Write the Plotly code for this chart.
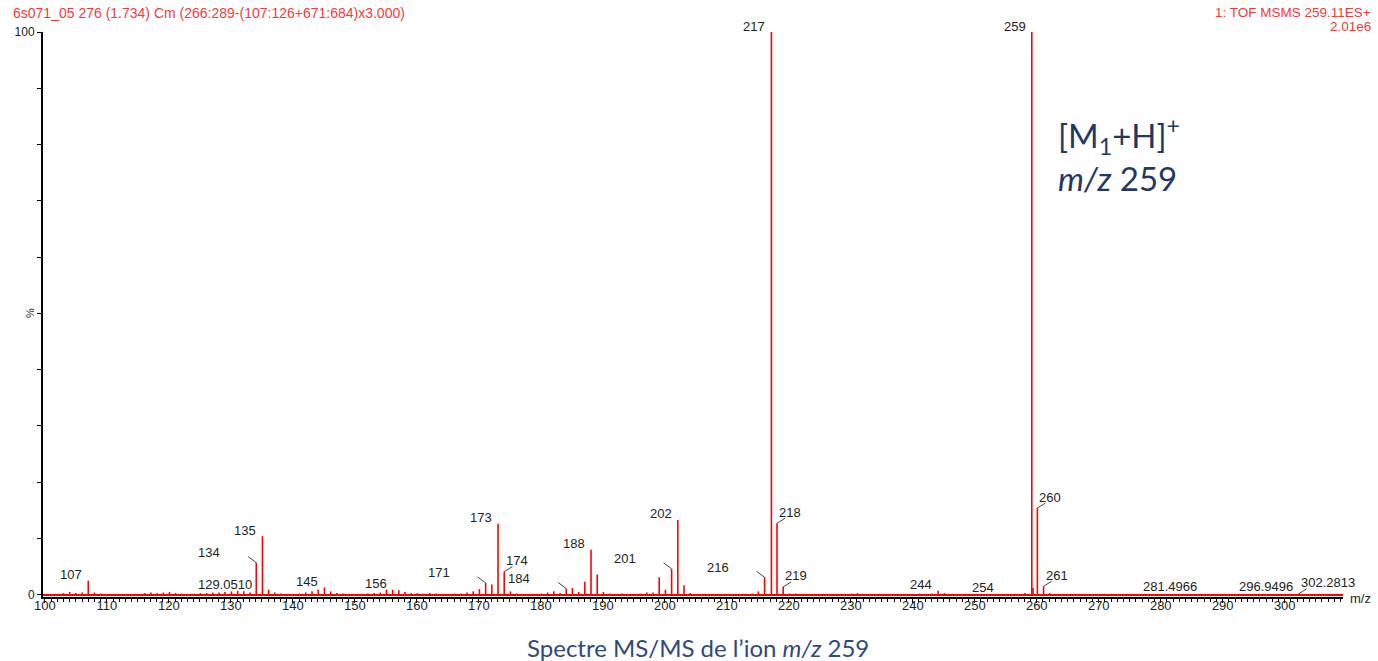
import plotly.graph_objects as go

# ---------------- data ----------------
mz = [103.0, 104.0, 105.0, 106.0, 107.0, 108.0, 109.0,
      116.1, 117.1, 118.1, 119.1, 120.1, 121.1, 122.1, 124.1, 125.1, 126.1, 127.1, 128.1,
      129.051, 130.1, 131.1, 132.1, 133.1, 134.1, 135.1, 136.1, 137.1, 138.1,
      141.1, 142.1, 143.1, 144.1, 145.1, 146.1, 147.1, 148.1,
      152.1, 153.1, 154.1, 155.1, 156.1, 157.1, 158.1, 159.1, 160.1, 161.1, 162.1, 163.1,
      166.1, 167.1, 168.1, 169.1, 170.1, 171.1, 172.1, 173.1, 174.1, 175.1, 176.1,
      180.1, 181.1, 182.1, 183.1, 184.1, 185.1, 186.1, 187.1, 188.1, 189.1, 190.1, 191.1,
      193.1, 196.1, 197.1, 198.1, 199.1, 200.1, 201.1, 202.1, 203.1, 204.1,
      214.1, 215.1, 216.1, 217.2, 218.1, 219.1, 220.1, 221.1,
      230.1, 231.1, 241.1, 243.1, 244.1, 245.1, 254.1,
      258.1, 259.2, 259.4, 260.1, 261.1, 262.1,
      281.4966, 296.9496, 302.2813]
intensity = [0.3, 0.5, 0.3, 0.4, 2.5, 0.4, 0.2,
             0.3, 0.4, 0.3, 0.4, 0.5, 0.3, 0.2, 0.2, 0.3, 0.3, 0.4, 0.4,
             0.5, 0.6, 0.7, 0.6, 0.4, 5.7, 10.4, 0.9, 0.4, 0.2,
             0.2, 0.4, 0.6, 0.9, 1.3, 0.6, 0.3, 0.2,
             0.2, 0.3, 0.4, 0.9, 0.9, 0.8, 0.5, 0.3, 0.3, 0.2, 0.3, 0.2,
             0.2, 0.2, 0.4, 0.6, 1.0, 2.1, 1.8, 12.6, 4.1, 0.6, 0.2,
             0.2, 0.4, 0.6, 0.3, 1.1, 1.2, 0.5, 2.3, 8.0, 3.6, 0.5, 0.2,
             0.2, 0.2, 0.4, 0.4, 3.1, 0.9, 4.6, 13.3, 1.7, 0.3,
             0.2, 0.6, 3.1, 100.0, 12.7, 1.4, 0.2, 0.2,
             0.2, 0.3, 0.2, 0.2, 0.7, 0.3, 0.15,
             0.3, 100.0, 1.2, 15.4, 1.5, 0.3,
             0.15, 0.15, 0.2]

label_mz = [107.0, 129.051, 134.1, 135.1, 145.1, 156.1, 171.1, 173.1, 174.1, 184.1,
            188.1, 201.1, 202.1, 216.1, 217.2, 218.1, 219.1, 244.1, 254.1, 259.2,
            260.1, 261.1, 281.4966, 296.9496, 302.2813]
label_text = ["107", "129.0510", "134", "135", "145", "156", "171", "173", "174", "184",
              "188", "201", "202", "216", "217", "218", "219", "244", "254", "259",
              "260", "261", "281.4966", "296.9496", "302.2813"]

x_range = [99.7, 309.4]
y_range = [-0.4, 100]
y_ticks = [0, 10, 20, 30, 40, 50, 60, 70, 80, 90, 100]
y_ticktext = ["0", "", "", "", "", "", "", "", "", "", "100"]

header_left = "6s071_05 276 (1.734) Cm (266:289-(107:126+671:684)x3.000)"
header_right1 = "1: TOF MSMS 259.11ES+"
header_right2 = "2.01e6"
ion_text = "[M<sub>1</sub>+H]<sup>+</sup><br><i>m/z</i> 259"
caption = "Spectre MS/MS de l\u2019ion <i>m/z</i> 259"

# ---------------- styles ----------------
# label placement style: 'std' (left of peak), 'c' (centred), 'L' (leader to left), 'R' (leader to right)
LABEL_STYLE = {"129.0510": "c", "281.4966": "c", "296.9496": "c",
               "134": "L", "171": "L", "184": "L", "201": "L", "216": "L",
               "174": "R", "218": "R", "219": "R", "260": "R", "261": "R", "302.2813": "R"}

FONT = "Liberation Sans, Arial, sans-serif"
RED = "#ff0000"
HEAD_RED = "#f23a3a"
LABEL_COLOR = "#222222"
LBL_SIZE = 13

# ---------------- build ----------------
intens_map = dict(zip(mz, intensity))
sx, sy = [], []
for m, v in zip(mz, intensity):
    sx += [m, m, None]
    sy += [0, v, None]

fig = go.Figure()
fig.add_trace(go.Scatter(x=sx, y=sy, mode="lines",
                         line=dict(color=RED, width=1.6),
                         hoverinfo="skip", showlegend=False, cliponaxis=False))

annotations = []
shapes = []
for m, t in zip(label_mz, label_text):
    v = intens_map[m]
    st = LABEL_STYLE.get(t, "std")
    a = dict(x=m, y=v, xref="x", yref="y", text=t, showarrow=False,
             font=dict(family=FONT, size=LBL_SIZE, color=LABEL_COLOR), yanchor="middle")
    if st == "std":
        a.update(xanchor="right", xshift=-4, yshift=6)
    elif st == "c":
        a.update(xanchor="center", xshift=0, yshift=7)
    elif st == "L":
        a.update(xanchor="right", xshift=-34, yshift=10)
        shapes.append(dict(type="line", xref="x", yref="y", xsizemode="pixel", ysizemode="pixel",
                           xanchor=m, yanchor=v, x0=0, y0=0, x1=-8, y1=6,
                           line=dict(color="#444444", width=1)))
    else:
        a.update(xanchor="left", xshift=0, yshift=11)
        shapes.append(dict(type="line", xref="x", yref="y", xsizemode="pixel", ysizemode="pixel",
                           xanchor=m, yanchor=v, x0=0, y0=0, x1=8, y1=5,
                           line=dict(color="#444444", width=1)))
    annotations.append(a)

# y axis "%" label
annotations.append(dict(x=0, y=50, xref="paper", yref="y", text="%", showarrow=False,
                        textangle=90, xanchor="center", yanchor="middle", xshift=-13,
                        font=dict(family=FONT, size=11, color="#222222")))
# m/z axis title
annotations.append(dict(x=1, y=0, xref="paper", yref="paper", text="m/z", showarrow=False,
                        xanchor="left", yanchor="middle", xshift=5, yshift=-1,
                        font=dict(family=FONT, size=13, color="#222222")))
# headers
annotations.append(dict(x=0, y=1, xref="paper", yref="paper", text=header_left, showarrow=False,
                        xanchor="left", yanchor="middle", xshift=-32, yshift=19,
                        font=dict(family=FONT, size=14, color=HEAD_RED)))
annotations.append(dict(x=1, y=1, xref="paper", yref="paper", text=header_right1, showarrow=False,
                        xanchor="right", yanchor="middle", xshift=30, yshift=20,
                        font=dict(family=FONT, size=13.5, color=HEAD_RED)))
annotations.append(dict(x=1, y=1, xref="paper", yref="paper", text=header_right2, showarrow=False,
                        xanchor="right", yanchor="middle", xshift=30, yshift=6,
                        font=dict(family=FONT, size=13.5, color=HEAD_RED)))
# ion annotation
annotations.append(dict(x=0.7795, y=0.863, xref="paper", yref="paper", text=ion_text,
                        showarrow=False, xanchor="left", yanchor="top", align="left",
                        font=dict(family="Lato, Open Sans, sans-serif", size=33, color="#1f3864")))
# caption
annotations.append(dict(x=0.504, y=-0.09, xref="paper", yref="paper", text=caption,
                        showarrow=False, xanchor="center", yanchor="middle",
                        font=dict(family="Lato, Open Sans, sans-serif", size=24, color="#2e4a78")))

fig.update_layout(
    width=1378, height=661,
    margin=dict(l=43, r=35, t=32, b=64),
    paper_bgcolor="white", plot_bgcolor="white",
    showlegend=False, hovermode=False,
    annotations=annotations, shapes=shapes,
    xaxis=dict(range=x_range, showgrid=False, zeroline=False,
               showline=True, linecolor="black", linewidth=1.5,
               ticks="outside", ticklen=4, tickwidth=1, tickcolor="black",
               dtick=10, tick0=100, ticklabelstandoff=-8,
               minor=dict(dtick=1, ticks="outside", ticklen=3, tickcolor="black", tickwidth=1),
               tickfont=dict(family=FONT, size=13, color="#222222")),
    yaxis=dict(range=y_range, showgrid=False,
               zeroline=True, zerolinecolor=RED, zerolinewidth=2,
               showline=True, linecolor="black", linewidth=2,
               ticks="outside", ticklen=4, tickwidth=1, tickcolor="black",
               tickvals=y_ticks, ticktext=y_ticktext,
               tickfont=dict(family=FONT, size=12, color="#222222")),
)

fig.write_html("out.html", config={"displayModeBar": False},
               post_script="document.body.style.margin='0';document.body.style.overflow='hidden';")
